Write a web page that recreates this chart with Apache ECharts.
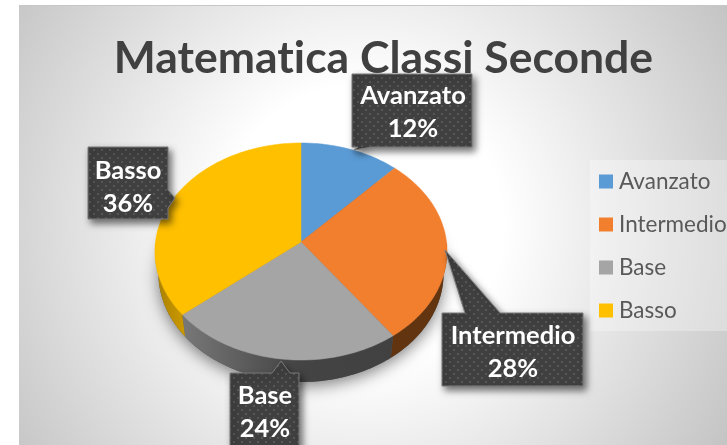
<!DOCTYPE html>
<html>
<head>
<meta charset="utf-8">
<style>
html, body { margin: 0; padding: 0; background: #fff; }
#chart { width: 727px; height: 445px; }
</style>
<script src="https://cdn.jsdelivr.net/npm/echarts@6/dist/echarts.min.js"></script>
</head>
<body>
<div id="chart"></div>
<script>
const chartTitle = 'Matematica Classi Seconde';
const categories = ['Avanzato', 'Intermedio', 'Base', 'Basso'];
const shares = [12, 28, 24, 36];

const colors = ['#5b9bd5', '#f27f2e', '#a5a5a5', '#ffc000'];
const fontName = 'Lato, "Open Sans", sans-serif';

// the pie is seen in perspective, so the centre is not the middle of the ellipse
const cx = 301, cy = 242, radius = 145.5, squash = 107.7, perspective = 0.0875;
const depth = 22, radiusBottom = 142;

// callout outlines and where their two text lines sit
const calloutOutlines = [
    [[352, 74], [472, 74], [472, 147], [372, 147], [354, 150], [358, 147], [352, 147]],
    [[442, 313], [465, 313], [445, 250], [500, 313], [583, 313], [583, 386], [442, 386]],
    [[230, 373], [272, 373], [281, 361], [290, 373], [299, 373], [299, 450], [230, 450]],
    [[88, 147], [168, 147], [168, 190], [175, 198], [168, 208], [168, 219], [88, 219]]
];
const calloutCenters = [[413, 112], [513, 352], [265, 412], [128, 187]];

const total = shares.reduce((a, b) => a + b, 0);

function edgePoint(angle, r, offsetY) {
    const toward = -Math.cos(angle);
    const k = 1 / (1 - perspective * toward);
    return [cx + r * Math.sin(angle) * k, cy + offsetY + squash * toward * k];
}

function arcPoints(from, to, r, offsetY) {
    const pts = [];
    const steps = Math.max(2, Math.ceil((to - from) / 0.02));
    for (let i = 0; i <= steps; i++) {
        pts.push(edgePoint(from + (to - from) * i / steps, r, offsetY));
    }
    return pts;
}

const dotTile = document.createElement('canvas');
dotTile.width = 8;
dotTile.height = 8;
(function () {
    const g = dotTile.getContext('2d');
    g.fillStyle = '#404040';
    g.fillRect(0, 0, 8, 8);
    g.fillStyle = '#575757';
    g.fillRect(1, 1, 2, 2);
    g.fillRect(5, 5, 2, 2);
})();

const sideFills = [
    null,
    '#62340f',
    new echarts.graphic.LinearGradient(0, 0, 1, 0, [
        { offset: 0, color: '#787878' },
        { offset: 0.55, color: '#444444' },
        { offset: 1, color: '#414141' }
    ]),
    new echarts.graphic.LinearGradient(0, 0, 1, 0, [
        { offset: 0, color: '#a87f00' },
        { offset: 1, color: '#cc9a00' }
    ])
];

function renderSlice(index) {
    return function () {
        const before = shares.slice(0, index).reduce((a, b) => a + b, 0);
        const start = before / total * Math.PI * 2;
        const end = (before + shares[index]) / total * Math.PI * 2;
        const children = [];

        // only the front half of the rim can be seen
        const sideFrom = Math.max(start, Math.PI / 2);
        const sideTo = Math.min(end, Math.PI * 1.5);
        if (sideTo > sideFrom) {
            const top = arcPoints(sideFrom, sideTo, radius, 0);
            const bottom = arcPoints(sideFrom, sideTo, radiusBottom, depth).reverse();
            children.push({
                type: 'polygon',
                shape: { points: top.concat(bottom) },
                style: { fill: sideFills[index] }
            });
        }

        children.push({
            type: 'polygon',
            shape: { points: [[cx, cy]].concat(arcPoints(start, end, radius, 0)) },
            style: { fill: colors[index], stroke: colors[index], lineWidth: 0.5 }
        });
        return { type: 'group', children: children };
    };
}

function renderShadow() {
    const outline = arcPoints(0, Math.PI * 2, radiusBottom, depth);
    return {
        type: 'polygon',
        shape: { points: outline },
        style: {
            fill: '#555555',
            shadowBlur: 16,
            shadowColor: 'rgba(0,0,0,0.5)',
            shadowOffsetY: 4
        }
    };
}

function renderCallout(params) {
    const i = params.dataIndex;
    return {
        type: 'group',
        children: [{
            type: 'polygon',
            shape: { points: calloutOutlines[i] },
            style: {
                fill: { image: dotTile, repeat: 'repeat' },
                stroke: '#7a7a7a',
                lineWidth: 1,
                shadowBlur: 7,
                shadowColor: 'rgba(0,0,0,0.55)',
                shadowOffsetX: 3,
                shadowOffsetY: 4
            }
        }, {
            type: 'text',
            x: calloutCenters[i][0],
            y: calloutCenters[i][1],
            style: {
                text: categories[i] + '\n' + shares[i] + '%',
                fill: '#ffffff',
                font: 'bold 25.5px ' + fontName,
                lineHeight: 33,
                align: 'center',
                verticalAlign: 'middle'
            }
        }]
    };
}

const series = [{
    type: 'custom',
    name: 'shadow',
    coordinateSystem: 'none',
    silent: true,
    z: 2,
    data: [total],
    renderItem: renderShadow
}];

categories.forEach(function (name, i) {
    series.push({
        type: 'custom',
        name: name,
        coordinateSystem: 'none',
        z: 3,
        itemStyle: { color: colors[i] },
        data: [shares[i]],
        renderItem: renderSlice(i)
    });
});

series.push({
    type: 'custom',
    name: 'callouts',
    coordinateSystem: 'none',
    silent: true,
    z: 5,
    data: shares,
    renderItem: renderCallout
});

const chart = echarts.init(document.getElementById('chart'), null, { renderer: 'canvas' });

chart.setOption({
    animation: false,
    backgroundColor: '#ffffff',
    title: {
        text: chartTitle,
        left: 378.5,
        top: 31,
        textAlign: 'center',
        textStyle: { color: '#404040', fontFamily: fontName, fontWeight: 'bold', fontSize: 44.5 }
    },
    legend: {
        data: categories,
        left: 599,
        top: 170,
        orient: 'vertical',
        icon: 'rect',
        itemWidth: 14,
        itemHeight: 14,
        itemGap: 20,
        padding: 0,
        selectedMode: false,
        textStyle: { color: '#595959', fontFamily: fontName, fontSize: 22.5, padding: [0, 0, 0, 1] }
    },
    graphic: [{
        type: 'rect',
        z: -2,
        shape: { x: 19, y: 5, width: 708, height: 440 },
        style: {
            fill: new echarts.graphic.RadialGradient(363, 225, 425, [
                { offset: 0, color: '#ffffff' },
                { offset: 0.33, color: '#ffffff' },
                { offset: 1, color: '#c4c4c4' }
            ], true)
        }
    }, {
        type: 'rect',
        z: -1,
        shape: { x: 19, y: 5, width: 708, height: 1 },
        style: { fill: '#c6c6c6' }
    }, {
        type: 'rect',
        z: -1,
        shape: { x: 590, y: 160, width: 137, height: 171 },
        style: { fill: 'rgba(255,255,255,0.3)' }
    }],
    series: series
});

// Lato joins "ti" into a ligature by default, the reference font does not
chart.getDom().querySelector('canvas').getContext('2d').textRendering = 'optimizeSpeed';
chart.getZr().painter.refresh(true);
</script>
</body>
</html>
